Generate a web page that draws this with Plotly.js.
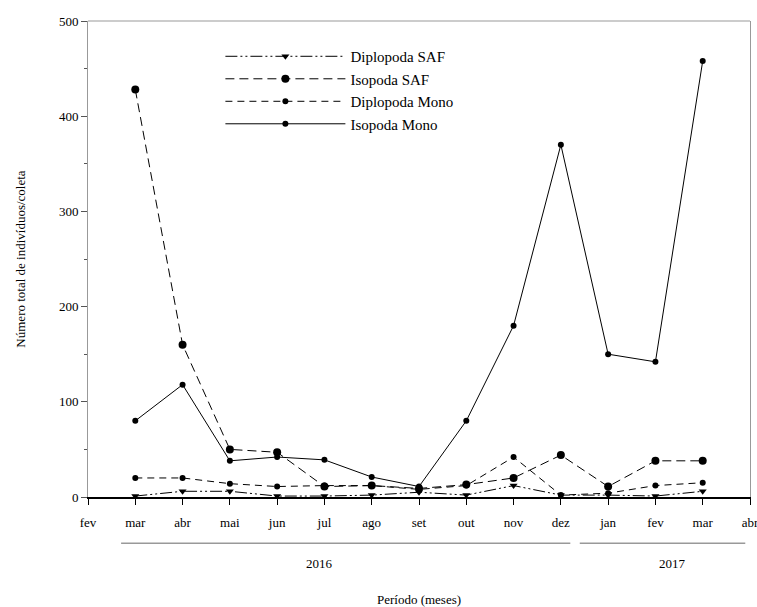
<!DOCTYPE html>
<html>
<head>
<meta charset="utf-8">
<script src="https://cdn.plot.ly/plotly-3.0.1.min.js"></script>
<style>html,body{margin:0;padding:0;background:#fff;} #chart{width:757px;height:607px;}</style>
</head>
<body>
<div id="chart"></div>
<script>
// Tick labels (months), fev 2016 .. abr 2017
const months = ["fev","mar","abr","mai","jun","jul","ago","set","out","nov","dez","jan","fev","mar","abr"];
// Sampled months: mar 2016 .. mar 2017 (index positions 1..13 on the month axis)
const sampleIdx = [1,2,3,4,5,6,7,8,9,10,11,12,13];

const diplopodaSAF  = [1, 6, 6, 1, 1, 2, 5, 2, 12, 2, 2, 1, 6];
const isopodaSAF    = [428, 160, 50, 47, 11, 12, 9, 13, 20, 44, 11, 38, 38];
const diplopodaMono = [20, 20, 14, 11, 12, 12, 8, 12, 42, 2, 4, 12, 15];
const isopodaMono   = [80, 118, 38, 42, 39, 21, 11, 80, 180, 370, 150, 142, 458];

const seriesNames = ["Diplopoda SAF","Isopoda SAF","Diplopoda Mono","Isopoda Mono"];

// Year groups under the month labels
const yearLabels = ["2016","2017"];
const yearCenters = [4.89, 12.37];
const yearSpans = [[0.70, 10.2],[10.4, 13.9]];

const serif = "Liberation Serif";

const traces = [
  {x: sampleIdx, y: diplopodaSAF, name: seriesNames[0], mode: "lines+markers",
   line: {color: "#000", width: 1, dash: "12px,3px,2px,3px,2px,3px"},
   marker: {symbol: "triangle-down", size: 7, color: "#000"}},
  {x: sampleIdx, y: isopodaSAF, name: seriesNames[1], mode: "lines+markers",
   line: {color: "#000", width: 1, dash: "9px,5px"},
   marker: {symbol: "circle", size: 8, color: "#000"}},
  {x: sampleIdx, y: diplopodaMono, name: seriesNames[2], mode: "lines+markers",
   line: {color: "#000", width: 1, dash: "7px,5px"},
   marker: {symbol: "circle", size: 6, color: "#000"}},
  {x: sampleIdx, y: isopodaMono, name: seriesNames[3], mode: "lines+markers",
   line: {color: "#000", width: 1},
   marker: {symbol: "circle", size: 6, color: "#000"}}
];

const shapes = yearSpans.map(s => ({
  type: "line", xref: "x", yref: "paper", x0: s[0], x1: s[1], y0: -0.097, y1: -0.097,
  line: {color: "#999", width: 1.5}
}));
shapes.push({type: "line", xref: "paper", yref: "paper", x0: 0, x1: 1, y0: 1, y1: 1,
  line: {color: "#999", width: 1}});

const annotations = yearLabels.map((t, i) => ({
  text: t, x: yearCenters[i], xref: "x", y: -0.14, yref: "paper",
  showarrow: false, yanchor: "middle", font: {family: serif, size: 13, color: "#000"}
}));

const layout = {
  width: 757, height: 607,
  margin: {l: 88, r: 7, t: 21, b: 110},
  paper_bgcolor: "#fff", plot_bgcolor: "#fff",
  font: {family: serif, size: 13, color: "#000"},
  showlegend: true,
  legend: {x: 0.2, y: 0.96, xanchor: "left", yanchor: "top", bgcolor: "rgba(0,0,0,0)",
           font: {family: serif, size: 15, color: "#000"}, itemwidth: 120},
  xaxis: {
    range: [0, 14], tickmode: "array",
    tickvals: months.map((m, i) => i), ticktext: months,
    ticks: "outside", ticklen: 6, tickcolor: "#000", tickwidth: 1,
    ticklabelstandoff: 6, ticklabeloverflow: "allow",
    showline: true, linecolor: "#000", linewidth: 2,
    showgrid: false, zeroline: false,
    tickfont: {family: serif, size: 13, color: "#000"},
    title: {text: "Período (meses)", font: {family: serif, size: 13, color: "#000"}, standoff: 66}
  },
  yaxis: {
    range: [0, 500], dtick: 100, tick0: 0,
    ticks: "outside", ticklen: 6, tickcolor: "#555",
    minor: {dtick: 50, ticks: "outside", ticklen: 3, tickcolor: "#555"},
    showline: true, linecolor: "#999", linewidth: 1, mirror: true,
    showgrid: false, zeroline: false,
    tickfont: {family: serif, size: 13, color: "#000"},
    title: {text: "Número total de indivíduos/coleta", font: {family: serif, size: 13, color: "#000"}, standoff: 30}
  },
  shapes: shapes,
  annotations: annotations
};

Plotly.newPlot("chart", traces, layout, {displayModeBar: false, staticPlot: true});
</script>
</body>
</html>
